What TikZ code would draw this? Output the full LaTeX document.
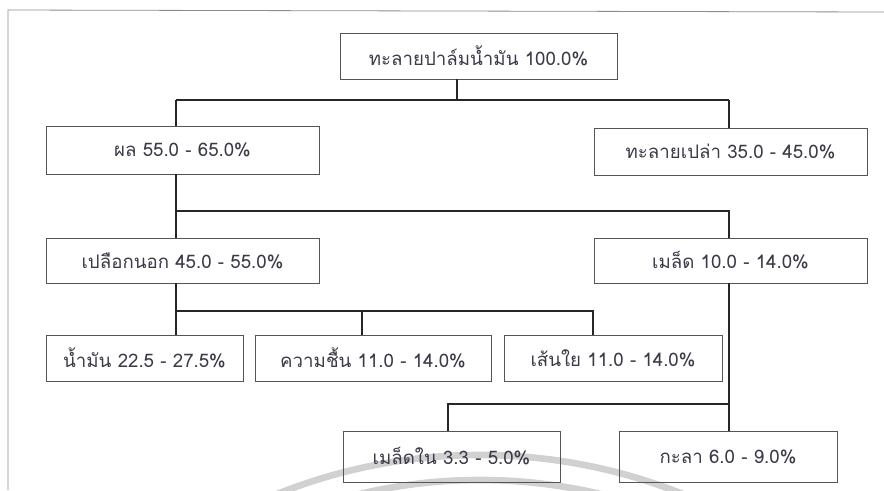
\documentclass[tikz,border=0pt]{standalone}
\usepackage{fontspec}
\newfontfamily\thaifont[Script=Thai]{Loma}
\definecolor{txt}{HTML}{3A3A48}
\definecolor{edge}{HTML}{555555}
\begin{document}
\begin{tikzpicture}[x=0.75pt,y=-0.75pt,
  box/.style={draw=edge, line width=0.7pt, rectangle, inner sep=0pt,
    font=\thaifont\fontsize{14}{16}\selectfont, text=txt},
  conn/.style={draw=black!85, line width=0.9pt},
  frame/.style={draw=black!45, line width=0.6pt},
  wmark/.style={draw=black!18, line width=5pt}]
\useasboundingbox (0,0) rectangle (884,490);
% watermark arcs
\begin{scope}
  \clip (0,0) rectangle (884,490);
  \draw[wmark] (480,1000) circle[radius=545];
  \draw[wmark] (480,1000) circle[radius=520];
\end{scope}
% outer frame
\draw[frame] (8,490) -- (8,10) -- (884,12);
% nodes
\node[box, minimum width=207.75pt, minimum height=34.5pt] (bunch) at (478.5,56) {ทะลายปาล์มน้ำมัน 100.0\%};
\node[box, minimum width=204.75pt, minimum height=36pt] (fruit) at (182.5,150) {ผล 55.0 - 65.0\%};
\node[box, minimum width=204.75pt, minimum height=35.25pt] (empty) at (730.5,151.5) {ทะลายเปล่า 35.0 - 45.0\%};
\node[box, minimum width=204.75pt, minimum height=33.75pt] (peel) at (182.5,260.5) {เปลือกนอก 45.0 - 55.0\%};
\node[box, minimum width=204.75pt, minimum height=33.75pt] (seed) at (730.5,260.5) {เมล็ด 10.0 - 14.0\%};
\node[box, minimum width=147.75pt, minimum height=34.5pt] (oil) at (144.5,358) {น้ำมัน 22.5 - 27.5\%};
\node[box, minimum width=177pt, minimum height=34.5pt] (moist) at (373,358) {ความชื้น 11.0 - 14.0\%};
\node[box, minimum width=163.5pt, minimum height=34.5pt] (fibre) at (613,358) {เส้นใย 11.0 - 14.0\%};
\node[box, minimum width=162.75pt, minimum height=38.25pt] (kernel) at (451.5,456.5) {เมล็ดใน 3.3 - 5.0\%};
\node[box, minimum width=163.5pt, minimum height=38.25pt] (shell) at (728,456.5) {กะลา 6.0 - 9.0\%};
% junction coordinates
\coordinate (j1) at (457,100);
\coordinate (l1) at (176,100);
\coordinate (r1) at (729,100);
\coordinate (l2) at (176,211);
\coordinate (r2) at (729,211);
\coordinate (l3) at (176,311);
\coordinate (m3) at (362,311);
\coordinate (r3) at (593,311);
\coordinate (l4) at (448,404);
\coordinate (r4) at (729,404);
% connectors
\draw[conn] (bunch.south -| j1) -- (j1);
\draw[conn, line width=1.6pt] (l1) -- (r1);
\draw[conn] (l1) -- (fruit.north -| l1);
\draw[conn] (r1) -- (empty.north -| r1);
\draw[conn] (fruit.south -| l2) -- (peel.north -| l2);
\draw[conn] (l2) -- (r2) -- (seed.north -| r2);
\draw[conn] (peel.south -| l3) -- (oil.north -| l3);
\draw[conn] (l3) -- (r3) -- (fibre.north -| r3);
\draw[conn] (m3) -- (moist.north -| m3);
\draw[conn] (seed.south -| r4) -- (shell.north -| r4);
\draw[conn] (r4) -- (l4) -- (kernel.north -| l4);
\end{tikzpicture}
\end{document}
